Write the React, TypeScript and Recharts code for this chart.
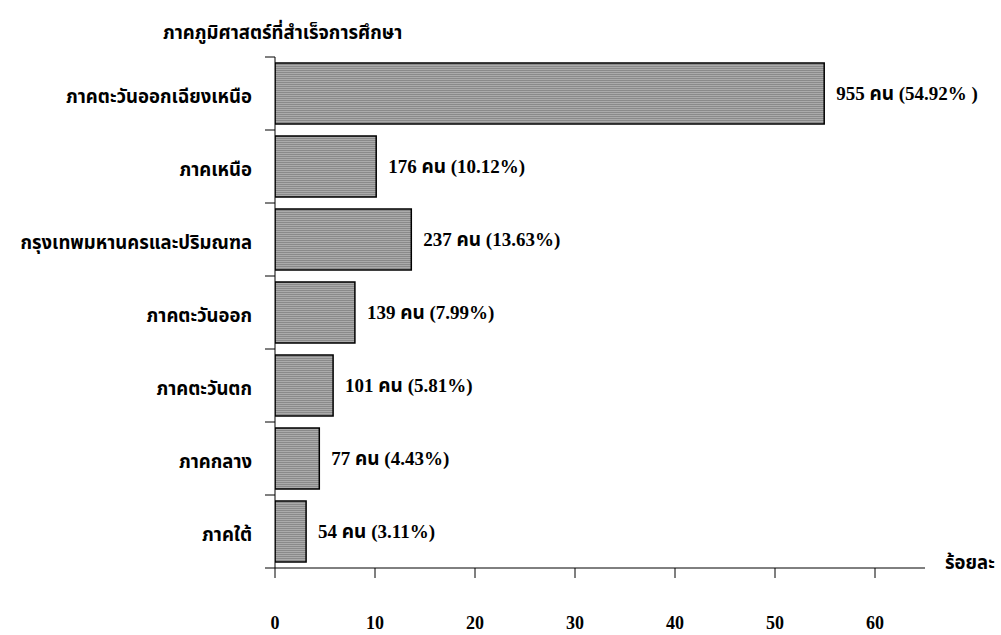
import React from 'react';
import { BarChart, Bar, XAxis, YAxis, LabelList } from 'recharts';

const categories = [
  'ภาคตะวันออกเฉียงเหนือ',
  'ภาคเหนือ',
  'กรุงเทพมหานครและปริมณฑล',
  'ภาคตะวันออก',
  'ภาคตะวันตก',
  'ภาคกลาง',
  'ภาคใต้',
];
const percents = [54.92, 10.12, 13.63, 7.99, 5.81, 4.43, 3.11];
const counts = [955, 176, 237, 139, 101, 77, 54];
const barLabels = [
  '955 คน (54.92% )',
  '176 คน (10.12%)',
  '237 คน (13.63%)',
  '139 คน (7.99%)',
  '101 คน (5.81%)',
  '77 คน (4.43%)',
  '54 คน (3.11%)',
];
const xTicks = [0, 10, 20, 30, 40, 50, 60];

const data = categories.map((c, i) => ({ name: c, value: percents[i], count: counts[i], label: barLabels[i] }));

const FONT = '"Liberation Serif", "Noto Sans Thai", "Noto Serif Thai", serif';

const YTick = (props: any) => {
  const { x, y, payload, index } = props;
  const band = 73;
  const ax = 275;
  return (
    <g>
      <line x1={ax - 10} x2={ax} y1={y - band / 2} y2={y - band / 2} stroke="#000" strokeWidth={1} />
      {index === categories.length - 1 && (
        <line x1={ax - 10} x2={ax} y1={y + band / 2} y2={y + band / 2} stroke="#000" strokeWidth={1} />
      )}
      <text x={x - 15} y={y + 3} dy="0.35em" textAnchor="end" fontFamily={FONT} fontWeight="bold" fontSize={18.5} fill="#000">
        {payload.value}
      </text>
    </g>
  );
};

const XTick = (props: any) => {
  const { payload, x } = props;
  return (
    <text x={x} y={623} dy="0.35em" textAnchor="middle" fontFamily={FONT} fontWeight="bold" fontSize={18} fill="#000">
      {payload.value}
    </text>
  );
};

export default function App() {
  return (
    <div style={{ position: 'absolute', left: 0, top: 0, width: 1001, height: 635, background: '#fff' }}>
      <BarChart
        width={1001}
        height={635}
        layout="vertical"
        data={data}
        margin={{ top: 57, right: 76, bottom: 0, left: 0 }}
        barCategoryGap={6}
      >
        <defs>
          <pattern id="stripes" width="4" height="2" patternUnits="userSpaceOnUse">
            <rect x="0" y="0" width="4" height="1" fill="#8a8a8a" />
            <rect x="0" y="1" width="4" height="1" fill="#ababab" />
          </pattern>
        </defs>
        <XAxis
          type="number"
          domain={[0, 65]}
          ticks={xTicks}
          tick={<XTick />}
          tickSize={10}
          height={67}
          axisLine={{ stroke: '#000', strokeWidth: 1 }}
          tickLine={{ stroke: '#000', strokeWidth: 1 }}
          interval={0}
          allowDataOverflow
        />
        <YAxis
          type="category"
          dataKey="name"
          width={275}
          tick={<YTick />}
          tickLine={false}
          axisLine={{ stroke: '#000', strokeWidth: 1 }}
          interval={0}
        />
        <Bar dataKey="value" fill="url(#stripes)" stroke="#000" strokeWidth={1.5} isAnimationActive={false}>
          <LabelList
            dataKey="label"
            position="right"
            offset={12}
            style={{ fontFamily: FONT, fontWeight: 'bold', fontSize: 19, fill: '#000' }}
          />
        </Bar>
      </BarChart>
      <div style={{ position: 'absolute', left: 163, top: 19, fontFamily: FONT, fontWeight: 'bold', fontSize: 18.5, color: '#000', whiteSpace: 'nowrap' }}>
        ภาคภูมิศาสตร์ที่สำเร็จการศึกษา
      </div>
      <div style={{ position: 'absolute', left: 945, top: 549, fontFamily: FONT, fontWeight: 'bold', fontSize: 18.5, color: '#000', whiteSpace: 'nowrap' }}>
        ร้อยละ
      </div>
    </div>
  );
}
